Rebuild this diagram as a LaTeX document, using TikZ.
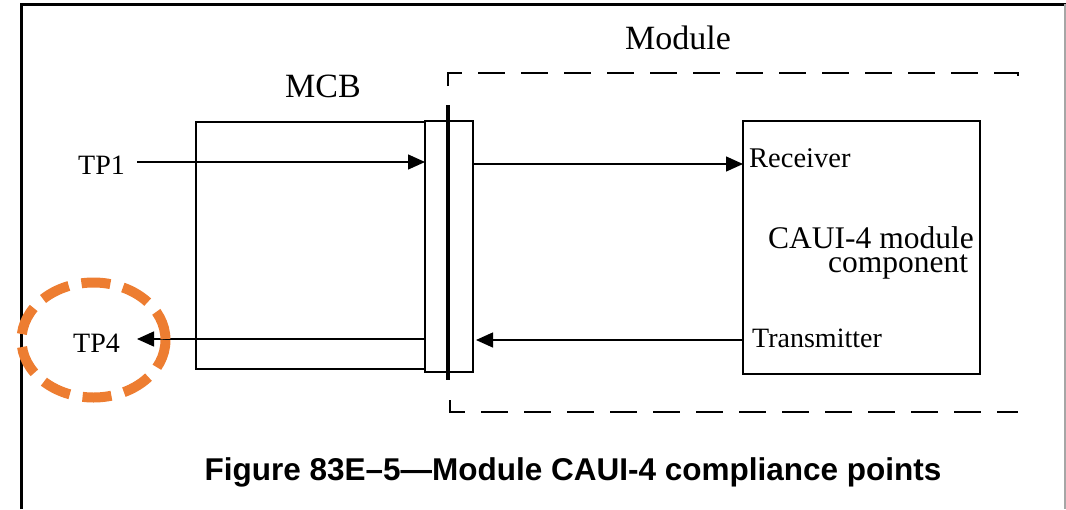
\documentclass[tikz,border=0pt]{standalone}
\usepackage{fontspec}
\setmainfont{Liberation Serif}
\newfontfamily\capfont{Liberation Sans}
\usetikzlibrary{arrows.meta}
\definecolor{markorange}{HTML}{ED7D31}
\begin{document}
\begin{tikzpicture}[x=1pt,y=-1pt,
  thin/.style={line width=1.4pt},
  tip/.style={thin,-{Triangle[length=17pt,width=15pt]}},
  box/.style={draw,thin,inner sep=0pt,outer sep=0pt},
  lbl/.style={inner sep=0pt,anchor=base west},
  modline/.style={thin,dash pattern=on 27pt off 16pt},
  ring/.style={draw=markorange,line width=10pt,dash pattern=on 29pt off 13pt}]
\useasboundingbox (0,0) rectangle (1066,509);

% page frame
\draw[line width=3pt] (21,509) -- (21,4) -- (1066,4);
\draw[black!35,line width=1.5pt] (1065,4) -- (1065,509);

% boxes
\node[box,minimum width=229pt,minimum height=247pt] (mcb) at (310.5,245.5) {};
\node[box,minimum width=48pt,minimum height=251pt] (blk) at (449,246.5) {};
\node[box,minimum width=237pt,minimum height=253pt] (comp) at (861.5,247.5) {};

% connector reference plane
\draw[line width=3.2pt] (448,105) -- (448,380);

% module boundary
\draw[modline] (448,86) -- (448,73) -- (1018,73) -- (1018,80);
\draw[modline] (450,400) -- (450,412) -- (1018,412);

% labels
\node[lbl,font=\fontsize{34}{40}\selectfont] (modlbl) at (625,49) {Module};
\node[lbl,font=\fontsize{34}{40}\selectfont] (mcblbl) at (285,97) {MCB};
\node[lbl,font=\fontsize{28}{32}\selectfont] (tp1) at (78,174) {TP1};
\node[lbl,font=\fontsize{28}{32}\selectfont] (tp4) at (73,352) {TP4};
\node[lbl,font=\fontsize{28.5}{32}\selectfont] (rx) at (749,167) {Receiver};
\node[lbl,font=\fontsize{28}{32}\selectfont] (tx) at (752,347) {Transmitter};
\node[inner sep=0pt,anchor=base west,align=left,
      font=\fontsize{31.5}{24}\selectfont] (cl) at (768,272)
  {CAUI-4 module\\\hspace*{60pt}component};

% signal paths
\coordinate (tp1a) at (137,162);
\coordinate (tp4a) at (137,339);
\draw[tip] (tp1a) -- (blk.west |- tp1a);
\draw[tip] (blk.east |- 0,164) -- (comp.west |- 0,164);
\draw[tip] (comp.west |- 0,340) -- ([xshift=3pt]blk.east |- 0,340);
\draw[tip] (blk.west |- 0,339) -- (tp4a);

% highlight ring round TP4
\draw[ring] (93.5,340) ellipse [x radius=72, y radius=57.5];

% caption
\node[inner sep=0pt,anchor=base,font=\capfont\bfseries\fontsize{31.5}{36}\selectfont] (cap) at (573,480) {Figure 83E–5—Module CAUI-4 compliance points};
\end{tikzpicture}
\end{document}
